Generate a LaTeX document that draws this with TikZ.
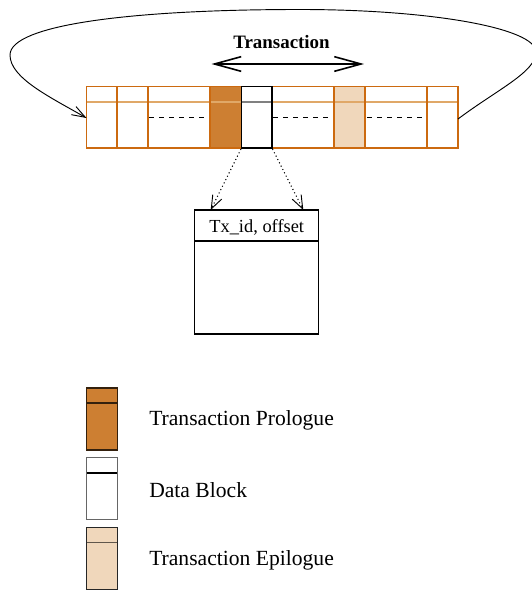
\documentclass[tikz,border=0pt]{standalone}
\usepackage{fontspec}
\setmainfont{Liberation Serif}
\usetikzlibrary{arrows.meta}
\definecolor{orln}{HTML}{CC6A10}
\definecolor{orlt}{HTML}{E0A868}
\definecolor{prol}{HTML}{CD7F32}
\definecolor{epil}{HTML}{F0D7BB}
\tikzset{
  cellline/.style={draw=orln, line width=1.1pt},
  midline/.style={draw=orlt, line width=1.6pt},
  dashline/.style={draw=black, line width=0.8pt, dash pattern=on 4pt off 3.5pt},
  legbox/.style={line width=1.1pt},
  legtext/.style={anchor=west, font=\fontsize{16.2}{19}\selectfont, inner sep=0pt},
  thinbarb/.style={-{Straight Barb[length=10pt,width=7.5pt,line width=0.7pt]}},
}
\begin{document}
\begin{tikzpicture}[x=0.75pt,y=-0.75pt]
\useasboundingbox (0,0) rectangle (531,591);

% --- bar ---
\fill[prol] (210,86.5) rectangle (241.5,148);
\fill[epil] (334,86.5) rectangle (365,148);
\draw[midline] (86.5,102) -- (241.5,102);
\draw[midline] (272,102) -- (458,102);
\draw[draw=gray, line width=1.6pt] (241.5,102) -- (272,102);
\draw[cellline] (86.5,86.5) rectangle (458,148);
\foreach \xx in {117,148,210,334,365,427} \draw[cellline] (\xx,86.5) -- (\xx,148);
\draw[line width=1.1pt] (241.5,86.5) rectangle (272,148);
\draw[dashline] (149,117.5) -- (205,117.5);
\draw[dashline] (273,117.5) -- (330,117.5);
\draw[dashline] (367,117.5) -- (422,117.5);

\coordinate (barL) at (86.5,118);
\coordinate (barR) at (458,119);
\coordinate (dsw) at (241,149);
\coordinate (dse) at (272.5,149);

% --- loop arc ---
\draw[line width=0.7pt, -{Straight Barb[length=10pt,width=7pt,line width=0.7pt]}]
  (barR) .. controls (498,89) and (536,72) .. (536,52)
  .. controls (536,28) and (430,9.5) .. (300,9.5)
  .. controls (130,9.5) and (10,25) .. (10,55)
  .. controls (10,78) and (50,97) .. (barL);

% --- Transaction ---
\node[font=\bfseries\fontsize{14.2}{17}\selectfont, inner sep=0pt] (ttl) at (281.5,42.5) {Transaction};
\coordinate (tL) at (211.5,64);
\coordinate (tR) at (364,64);
\draw[line width=1.4pt, {Straight Barb[length=20pt,width=11pt,line width=1.2pt]}-{Straight Barb[length=20pt,width=11pt,line width=1.2pt]}] (tL) -- (tR);

% --- Tx box ---
\draw[line width=1.1pt] (194.7,210) rectangle (318.7,334);
\draw[line width=1.1pt] (194.7,241) -- (318.7,241);
\node[font=\fontsize{13.8}{16}\selectfont, inner sep=0pt] (txl) at (256.7,227) {Tx\_id, offset};
\coordinate (bxL) at (210.7,210);
\coordinate (bxR) at (303.3,210);
\draw[dotted, line width=0.8pt, thinbarb] (dsw) -- (bxL);
\draw[dotted, line width=0.8pt, thinbarb] (dse) -- (bxR);

% --- legend ---
\filldraw[fill=prol, draw=black!75!prol, legbox] (86.7,388) rectangle (117.3,450);
\draw[draw=black!75!prol, legbox] (86.7,403) -- (117.3,403);
\draw[draw=black!60, legbox] (86.7,457.7) rectangle (117.3,519.3);
\draw[legbox] (86.7,473) -- (117.3,473);
\filldraw[fill=epil, draw=black!85, legbox] (86.7,527.7) rectangle (117.3,589.3);
\draw[draw=black!60!epil, legbox] (86.7,542.7) -- (117.3,542.7);

\node[legtext] (l1) at (149,420) {Transaction Prologue};
\node[legtext] (l2) at (149,490) {Data Block};
\node[legtext] (l3) at (149,560) {Transaction Epilogue};
\end{tikzpicture}
\end{document}
